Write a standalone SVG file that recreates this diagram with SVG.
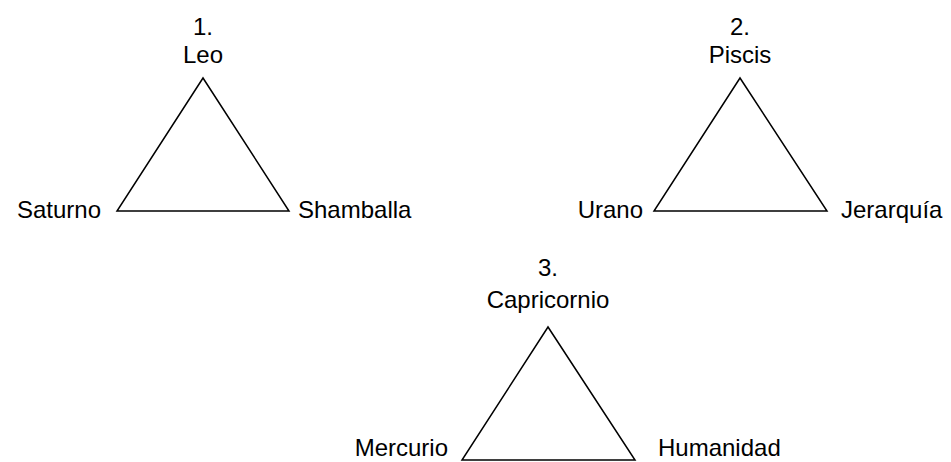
<svg xmlns="http://www.w3.org/2000/svg" width="951" height="462" viewBox="0 0 951 462">
<style>
text{font-family:"Liberation Sans",Arial,sans-serif;font-size:24px;fill:#000}
.m{text-anchor:middle}.e{text-anchor:end}
.tri{fill:none;stroke:#000;stroke-width:1.5;stroke-linejoin:miter}
</style>
<rect width="951" height="462" fill="#fff"/>
<g id="connectors">
<polygon class="tri" points="203,78 117,211 289,211"/>
<polygon class="tri" points="740,78 654,211 827,211"/>
<polygon class="tri" points="548,327 462,460 635,460"/>
</g>
<g id="leo"><text class="m" x="203" y="35">1.</text><text class="m" x="203" y="63">Leo</text></g>
<g id="saturno"><text class="e" x="101" y="218">Saturno</text></g>
<g id="shamballa"><text x="298" y="218">Shamballa</text></g>
<g id="piscis"><text class="m" x="740" y="35">2.</text><text class="m" x="740" y="63">Piscis</text></g>
<g id="urano"><text class="e" x="643" y="218">Urano</text></g>
<g id="jerarquia"><text x="841" y="218">Jerarquía</text></g>
<g id="capricornio"><text class="m" x="548" y="276">3.</text><text class="m" x="548" y="308">Capricornio</text></g>
<g id="mercurio"><text class="e" x="448" y="456">Mercurio</text></g>
<g id="humanidad"><text x="658" y="456">Humanidad</text></g>
</svg>
